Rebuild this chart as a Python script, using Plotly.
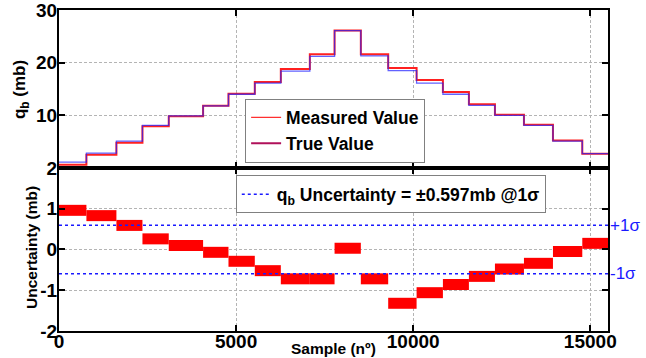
import plotly.graph_objects as go
from plotly.subplots import make_subplots

# step edges (samples)
edges = [0, 774, 1621, 2356, 3099, 4068, 4785, 5528, 6263, 7082, 7780,
         8522, 9294, 10096, 10839, 11573, 12308, 13127, 13946, 14774, 15500]
true_vals = [1.1, 2.8, 5.1, 8.1, 9.9, 11.8, 14.0, 16.1, 18.4, 21.2,
             26.1, 21.3, 18.5, 16.1, 14.0, 11.9, 10.0, 8.1, 5.1, 2.7]
meas_vals = [0.6, 2.5, 4.8, 7.9, 9.8, 11.8, 14.1, 16.3, 18.8, 21.6,
             26.1, 21.6, 19.0, 16.7, 14.4, 12.1, 10.1, 8.2, 5.2, 2.7]
unc_vals = [0.96, 0.83, 0.59, 0.26, 0.10, -0.07, -0.29, -0.52, -0.72, -0.72,
            0.03, -0.72, -1.32, -1.06, -0.86, -0.66, -0.48, -0.34, -0.05, 0.15]
sigma = 0.597
x_ticks = [0, 5000, 10000, 15000]
x_ticklabels = ["0", "5000", "10000", "15000"]
top_yticks = [10, 20, 30]
bot_yticks = [-2, -1, 0, 1, 2]
bot_yticklabels = ["-2", "-1", "0", "1", "2"]

FONT = "Liberation Sans"

fig = make_subplots(rows=2, cols=1, shared_xaxes=True, vertical_spacing=0)

# top panel
fig.add_trace(go.Scatter(x=edges, y=meas_vals + [meas_vals[-1]], mode="lines",
                         line=dict(color="#ff2020", width=2, shape="hv"),
                         showlegend=False), row=1, col=1)
fig.add_trace(go.Scatter(x=edges, y=true_vals + [true_vals[-1]], mode="lines",
                         line=dict(color="#2020ff", width=1.3, shape="hv"),
                         opacity=0.7, showlegend=False), row=1, col=1)
fig.add_trace(go.Scatter(x=[None], y=[None], mode="lines", name="Measured Value",
                         line=dict(color="#ff3030", width=1.3), legend="legend"), row=1, col=1)
fig.add_trace(go.Scatter(x=[None], y=[None], mode="lines", name="True Value",
                         line=dict(color="#b0105a", width=2), legend="legend"), row=1, col=1)

# bottom panel: uncertainty segments
ux, uy = [], []
for i, u in enumerate(unc_vals):
    ux += [edges[i], edges[i + 1], None]
    uy += [u, u, None]
fig.add_trace(go.Scatter(x=ux, y=uy, mode="lines",
                         line=dict(color="#ff0000", width=11),
                         showlegend=False), row=2, col=1)
fig.add_trace(go.Scatter(x=[edges[0], edges[-1]], y=[sigma, sigma], mode="lines",
                         line=dict(color="#1a1aff", width=1.5, dash="dot"),
                         name="q<sub>b</sub> Uncertainty = \u00b10.597mb @1\u03c3",
                         legend="legend2"), row=2, col=1)
fig.add_trace(go.Scatter(x=[edges[0], edges[-1]], y=[-sigma, -sigma], mode="lines",
                         line=dict(color="#1a1aff", width=1.5, dash="dot"),
                         showlegend=False), row=2, col=1)

axis_common = dict(showline=True, linecolor="black", linewidth=2, mirror="allticks",
                   ticks="inside", ticklen=6, tickwidth=2, tickcolor="black",
                   showgrid=True, gridcolor="#b4b4b4", gridwidth=1, griddash="3px,2px",
                   zeroline=False, automargin=False, ticklabeloverflow="allow",
                   tickfont=dict(family=FONT, size=19, color="black", weight="bold"))

fig.update_xaxes(**axis_common, range=[0, 15500], tickvals=x_ticks, ticktext=x_ticklabels,
                 ticklabelstandoff=-8)
fig.update_xaxes(showticklabels=False, row=1, col=1)
fig.update_yaxes(**axis_common, ticklabelstandoff=-4)
fig.update_yaxes(range=[0, 30], tickvals=top_yticks, domain=[0.508, 1], row=1, col=1)
fig.update_yaxes(range=[-2, 2], tickvals=bot_yticks, ticktext=bot_yticklabels,
                 domain=[0, 0.508], row=2, col=1)

title_font = dict(family=FONT, color="black", weight="bold")
fig.add_annotation(text="q<sub>b</sub> (mb)", xref="paper", yref="paper",
                   x=-0.069, y=(331 - 90) / 321, textangle=-90, showarrow=False,
                   xanchor="center", yanchor="middle", font=dict(size=17, **title_font))
fig.add_annotation(text="Uncertainty (mb)", xref="paper", yref="paper",
                   x=-0.051, y=(331 - 248) / 321, textangle=-90, showarrow=False,
                   xanchor="center", yanchor="middle", font=dict(size=15.5, **title_font))
fig.add_annotation(text="Sample (n\u00ba)", xref="paper", yref="paper", x=0.5, y=-0.053,
                   showarrow=False, yanchor="middle", font=dict(size=15.5, **title_font))
for lab, yv in [("+1\u03c3", sigma), ("-1\u03c3", -sigma)]:
    fig.add_annotation(text=lab, xref="paper", yref="y2", x=1.0, y=yv, xanchor="left",
                       yanchor="middle", showarrow=False, xshift=0,
                       font=dict(family=FONT, size=17, color="#1a1aff"))

legend_font = dict(family=FONT, size=17.5, color="black", weight="bold")
fig.update_layout(
    width=646, height=358,
    margin=dict(l=59, r=38, t=10, b=27, autoexpand=False),
    paper_bgcolor="white", plot_bgcolor="white",
    legend=dict(x=0.339, y=0.724, xanchor="left", yanchor="top", bgcolor="white",
                bordercolor="#808080", borderwidth=1, font=legend_font, itemwidth=30,
                tracegroupgap=0),
    legend2=dict(x=0.322, y=0.485, xanchor="left", yanchor="top", bgcolor="white",
                 bordercolor="#808080", borderwidth=1, font=legend_font, itemwidth=30),
)

fig.write_html("out.html")
